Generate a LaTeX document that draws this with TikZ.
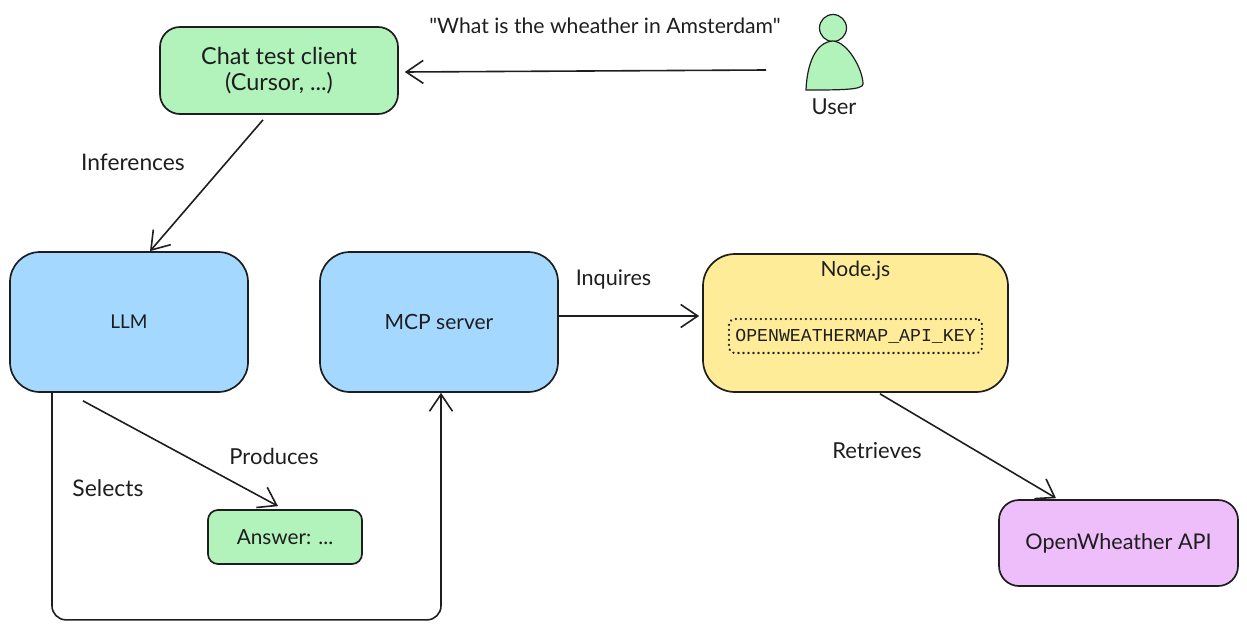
\documentclass[tikz,border=0pt]{standalone}
\usepackage{fontspec}
\setmainfont{Lato}
\newfontfamily\straightquote{Lato}
\setmonofont{Liberation Mono}
\usetikzlibrary{arrows.meta}
\definecolor{ink}{HTML}{1E1E1E}
\definecolor{mint}{HTML}{B2F2BB}
\definecolor{sky}{HTML}{A5D8FF}
\definecolor{butter}{HTML}{FFEC99}
\definecolor{lilac}{HTML}{EEBEFA}
\newcommand{\fs}[1]{\fontsize{#1}{26}\selectfont}
\tikzset{
  box/.style={draw=ink,line width=1.7pt,rounded corners=#1,inner sep=0pt,align=center,text=ink},
  box/.default=20pt,
  lbl/.style={inner sep=0pt,text=ink},
  link/.style={draw=ink,line width=1.6pt,-{Straight Barb[length=17pt,width=23pt,line width=1.6pt]}}
}
\begin{document}
\begin{tikzpicture}[x=1pt,y=-1pt]
\useasboundingbox (0,0) rectangle (1247,629);
\node[box=20pt,fill=mint,minimum width=238pt,minimum height=87pt,font=\fs{23.4}] (chat) at (279,70.5) {Chat test client\\(Cursor, ...)};
\node[box=30pt,fill=sky,minimum width=238pt,minimum height=140pt,font=\fs{19}] (llm) at (129,322) {LLM};
\node[box=30pt,fill=sky,minimum width=238pt,minimum height=140pt,font=\fs{21}] (mcp) at (439,322) {MCP server};
\node[box=32pt,fill=butter,minimum width=305pt,minimum height=138pt] (nodejs) at (855.5,323) {};
\node[lbl,font=\fs{21}] (nodelbl) at (855.5,271) {Node.js};
\node[draw=ink,line width=2.2pt,dash pattern=on 0.4pt off 4.6pt,line cap=round,rounded corners=6pt,minimum width=253pt,minimum height=34pt,inner sep=0pt,text=ink,font=\ttfamily\fs{18.2}] (key) at (855.5,336) {OPENWEATHERMAP\_API\_KEY};
\node[box=10pt,fill=mint,minimum width=154pt,minimum height=54pt,font=\fs{20.8}] (answer) at (285,537) {Answer: ...};
\node[box=20pt,fill=lilac,minimum width=239pt,minimum height=86pt,font=\fs{21.6}] (api) at (1118.5,543) {OpenWheather API};
% user
\node[draw=ink,line width=1.2pt,fill=mint,circle,minimum size=27pt,inner sep=0pt] (head) at (833,28) {};
\draw[draw=ink,line width=1.2pt,fill=mint] (806,90) .. controls (807,65) and (815,42) .. (833,41) .. controls (848,42) and (863,70) .. (863,84) .. controls (863,90) and (840,90) .. (806,90) -- cycle;
\node[lbl,font=\fs{22}] (userlbl) at (834,107) {User};
% labels
\node[lbl,font=\straightquote\fs{21.2}] (q) at (605,26) {"What is the wheather in Amsterdam"};
\node[lbl,font=\fs{22.8}] (inf) at (133,162.5) {Inferences};
\node[lbl,font=\fs{21.6}] (inq) at (613.5,279) {Inquires};
\node[lbl,font=\fs{22}] (prod) at (274,456) {Produces};
\node[lbl,font=\fs{22.9}] (sel) at (108,488.5) {Selects};
\node[lbl,font=\fs{22}] (ret) at (877,451) {Retrieves};
% connectors
\coordinate (ufree) at (766,70);
\draw[link] (ufree) -- ([shift={(6,1.5)}]chat.east);
\draw[link] ([shift={(-16,5)}]chat.south) -- ([shift={(21,0)}]llm.north);
\draw[link] (mcp.east |- 0,316) -- ([xshift=-3pt]nodejs.west |- 0,316);
\draw[link] ([shift={(24.5,1)}]nodejs.south) -- ([shift={(-62.5,-1)}]api.north);
\draw[link] ([shift={(-46,8)}]llm.south) -- ([shift={(-7,-3)}]answer.north);
\draw[link,rounded corners=14pt] ([xshift=-77pt]llm.south) -- ++(0,227) -| ([xshift=2pt]mcp.south);
\end{tikzpicture}
\end{document}
